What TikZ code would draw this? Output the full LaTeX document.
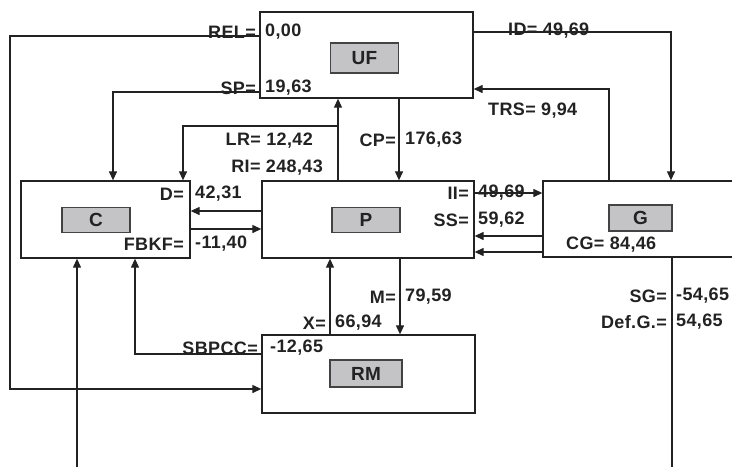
\documentclass[tikz,border=0pt]{standalone}
\usepackage{fontspec}
\setmainfont[LetterSpace=2]{Liberation Sans}
\usetikzlibrary{arrows.meta}
\definecolor{flowink}{RGB}{34,34,34}
\definecolor{flowtag}{RGB}{196,196,198}
\tikzset{
  sectorbox/.style={draw=flowink, line width=1.3pt, fill=white, inner sep=0pt},
  sectortag/.style={draw=flowink!85, line width=1.3pt, fill=flowtag,
    minimum width=68pt, minimum height=26pt, inner sep=0pt,
    font=\fontsize{19}{19}\selectfont\bfseries, text=flowink},
  flowline/.style={draw=flowink, line width=1.2pt},
  flowarrow/.style={flowline, -{Triangle[length=9pt,width=8pt]}},
  valtext/.style={inner sep=0pt, font=\fontsize{18}{18}\selectfont\bfseries,
    text=flowink},
}

\begin{document}
\begin{tikzpicture}[x=1pt,y=-1pt]
  \useasboundingbox (0,0) rectangle (732,467);
  \clip (0,0) rectangle (732,467);
  % sectors
  \node[sectorbox, minimum width=213pt, minimum height=86pt] (uf) at (366.5,55) {};
  \node[sectorbox, minimum width=169pt, minimum height=77pt] (c) at (105.5,219.5) {};
  \node[sectorbox, minimum width=212pt, minimum height=77pt] (p) at (368,219.5) {};
  \node[sectorbox, minimum width=200pt, minimum height=76pt] (g) at (643,219) {};
  \node[sectorbox, minimum width=213pt, minimum height=78pt] (rm) at (368.5,374) {};
  \node[sectortag, minimum height=30pt] (uftag) at (364.5,58) {UF};
  \node[sectortag, minimum height=25pt] (ctag) at (96,220) {C};
  \node[sectortag, minimum height=25pt] (ptag) at (366,220) {P};
  \node[sectortag, minimum width=63pt] (gtag) at (640.5,218) {G};
  \node[sectortag, minimum width=72pt, minimum height=27pt] (rmtag) at (366,373.5) {RM};
  % bends and ports
  \coordinate (relbend) at (10,36);
  \coordinate (relfoot) at (10,389);
  \coordinate (spbend) at (113,92);
  \coordinate (riport) at (338,181);
  \coordinate (lrbend) at (183,126);
  \coordinate (cpcol) at (399,0);
  \coordinate (idbend) at (671,32);
  \coordinate (trsbend) at (609,89);
  \coordinate (drow) at (0,211);
  \coordinate (fbkfrow) at (0,229);
  \coordinate (iirow) at (0,193);
  \coordinate (ssrow) at (0,236);
  \coordinate (cgrow) at (0,252);
  \coordinate (mcol) at (400,0);
  \coordinate (xcol) at (330,0);
  \coordinate (sbpccbend) at (135,354);
  \coordinate (cfoot) at (77,467);
  \coordinate (sgfoot) at (672,467);
  % flows
  \draw[flowarrow] (uf.west |- relbend) -- (relbend) -- (relfoot) -- (rm.west |- relfoot);
  \draw[flowarrow] (uf.west |- spbend) -- (spbend) -- (c.north -| spbend);
  \draw[flowarrow] (p.north -| riport) -- (uf.south -| riport);
  \draw[flowarrow] (riport |- lrbend) -- (lrbend) -- (c.north -| lrbend);
  \draw[flowarrow] (uf.south -| cpcol) -- (p.north -| cpcol);
  \draw[flowarrow] (uf.east |- idbend) -- (idbend) -- (g.north -| idbend);
  \draw[flowarrow] (g.north -| trsbend) -- (trsbend) -- (uf.east |- trsbend);
  \draw[flowarrow] (p.west |- drow) -- (c.east |- drow);
  \draw[flowarrow] (c.east |- fbkfrow) -- (p.west |- fbkfrow);
  \draw[flowarrow] (p.east |- iirow) -- (g.west |- iirow);
  \draw[flowarrow] (g.west |- ssrow) -- (p.east |- ssrow);
  \draw[flowarrow] (g.west |- cgrow) -- (p.east |- cgrow);
  \draw[flowarrow] (p.south -| mcol) -- (rm.north -| mcol);
  \draw[flowarrow] (rm.north -| xcol) -- (p.south -| xcol);
  \draw[flowarrow] (rm.west |- sbpccbend) -- (sbpccbend) -- (c.south -| sbpccbend);
  \draw[flowarrow] (cfoot) -- (c.south -| cfoot);
  \draw[flowline] (g.south -| sgfoot) -- (sgfoot);
  % values
  \node[valtext, anchor=east] (rellbl) at (256,32) {REL=};
  \node[valtext, anchor=west] (relval) at (265,32) {0,00};
  \node[valtext, anchor=east] (splbl) at (256,88) {SP=};
  \node[valtext, anchor=west] (spval) at (265,88) {19,63};
  \node[valtext, anchor=east] (lrlbl) at (313,141) {LR= 12,42};
  \node[valtext, anchor=east] (rilbl) at (323,168) {RI= 248,43};
  \node[valtext, anchor=east] (cplbl) at (396,140) {CP=};
  \node[valtext, anchor=west] (cpval) at (405,140) {176,63};
  \node[valtext, anchor=west] (idlbl) at (508,31) {ID= 49,69};
  \node[valtext, anchor=west] (trslbl) at (488,111) {TRS= 9,94};
  \node[valtext, anchor=east] (dlbl) at (184,194) {D=};
  \node[valtext, anchor=west] (dval) at (195,194) {42,31};
  \node[valtext, anchor=east] (fbkflbl) at (184,244) {FBKF=};
  \node[valtext, anchor=west] (fbkfval) at (195,244) {-11,40};
  \node[valtext, anchor=east] (iilbl) at (469,193) {II=};
  \node[valtext, anchor=west] (iival) at (478,193) {49,69};
  \node[valtext, anchor=east] (sslbl) at (469,220) {SS=};
  \node[valtext, anchor=west] (ssval) at (478,220) {59,62};
  \node[valtext, anchor=west] (cglbl) at (566,245) {CG= 84,46};
  \node[valtext, anchor=east] (mlbl) at (396,297) {M=};
  \node[valtext, anchor=west] (mval) at (405,297) {79,59};
  \node[valtext, anchor=east] (xlbl) at (326,323) {X=};
  \node[valtext, anchor=west] (xval) at (335,323) {66,94};
  \node[valtext, anchor=east] (sbpcclbl) at (258,348) {SBPCC=};
  \node[valtext, anchor=west] (sbpccval) at (270,348) {-12,65};
  \node[valtext, anchor=east] (sglbl) at (667,296) {SG=};
  \node[valtext, anchor=west] (sgval) at (676,296) {-54,65};
  \node[valtext, anchor=east] (defglbl) at (667,322) {Def.G.=};
  \node[valtext, anchor=west] (defgval) at (676,322) {54,65};
\end{tikzpicture}
\end{document}
